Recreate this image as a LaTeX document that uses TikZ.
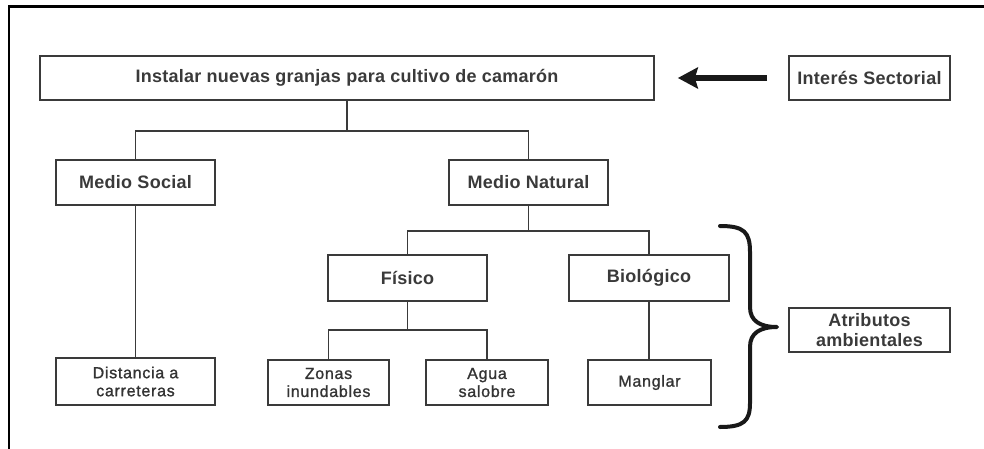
\documentclass[tikz,border=0pt]{standalone}
\usepackage{fontspec}
\setmainfont{Liberation Sans}
\newfontfamily\bigfont{Liberation Sans Bold}[LetterSpace=1.5]
\newfontfamily\smallfont{Liberation Sans}[LetterSpace=4.5, FakeBold=1.2]
\usetikzlibrary{arrows.meta}
\definecolor{ink}{HTML}{3A3A3A}
\definecolor{edge}{HTML}{3A3A3A}
\tikzset{
  box/.style={draw=edge, line width=1.7pt, fill=white, inner sep=0pt, align=center,
    text=ink, font=\bigfont\fontsize{18}{20}\selectfont},
  smallbox/.style={box, text=ink!90!black, font=\smallfont\fontsize{16}{18}\selectfont},
  link/.style={draw=edge, line width=1.6pt},
}
\begin{document}
\begin{tikzpicture}[x=1pt,y=-1pt]
\useasboundingbox (0,0) rectangle (984,449);
\fill[white] (0,0) rectangle (984,449);
% frame (top and left edges visible)
\draw[line width=2.2pt, black] (9,449) -- (9,6.5) -- (984,6.5);

% nodes
\node[box, minimum width=614, minimum height=44] (main) at (347,78) {Instalar nuevas granjas para cultivo de camarón};
\node[box, minimum width=161, minimum height=44] (int) at (869.5,78) {Interés Sectorial};
\node[box, minimum width=159, minimum height=45] (ms) at (135.5,182.5) {Medio Social};
\node[box, minimum width=159, minimum height=45] (mn) at (528.5,182.5) {Medio Natural};
\node[box, minimum width=159, minimum height=46] (fis) at (407.5,278) {Físico};
\node[box, minimum width=160, minimum height=46] (bio) at (649,278) {Biológico};
\node[smallbox, minimum width=159, minimum height=47] (dist) at (135.5,381.5) {Distancia a\\carreteras};
\node[smallbox, minimum width=121, minimum height=45] (zon) at (328.5,382.5) {Zonas\\inundables};
\node[smallbox, minimum width=122, minimum height=45] (agua) at (487,382.5) {Agua\\salobre};
\node[smallbox, minimum width=123, minimum height=45] (mang) at (649.5,382.5) {Manglar};
\node[box, minimum width=161, minimum height=44] (atr) at (869.5,330) {Atributos\\ambientales};

% tree connectors
\draw[link] (main.south) -- ++(0,30) coordinate (b1);
\draw[link] (ms.north) |- (b1) -| (mn.north);
\draw[link] (ms.south) -- (dist.north);
\draw[link] (mn.south) -- ++(0,25) coordinate (b2);
\draw[link] (fis.north) |- (b2) -| (bio.north);
\draw[link] (fis.south) -- ++(0,28) coordinate (b3);
\draw[link] (zon.north) |- (b3) -| (agua.north);
\draw[link] (bio.south) -- (bio.south |- mang.north);

% thick arrow
\draw[line width=6.5pt, black!90, -{Stealth[length=20pt,width=21pt,inset=3pt]}]
  ([xshift=-21pt]int.west) -- ([xshift=23pt]main.east);

% brace
\coordinate (bt) at (720,226);
\coordinate (bb) at (720,427);
\coordinate (tip) at (777,327);
\draw[line width=4pt, black!90, line cap=round, line join=round]
  (bt) .. controls (744,226) and (750,232) .. (750,252) -- (750,307)
  .. controls (750,321) and (760,327) .. (tip)
  .. controls (760,327) and (750,333) .. (750,347) -- (750,403)
  .. controls (750,421) and (744,427) .. (bb);
\end{tikzpicture}
\end{document}
